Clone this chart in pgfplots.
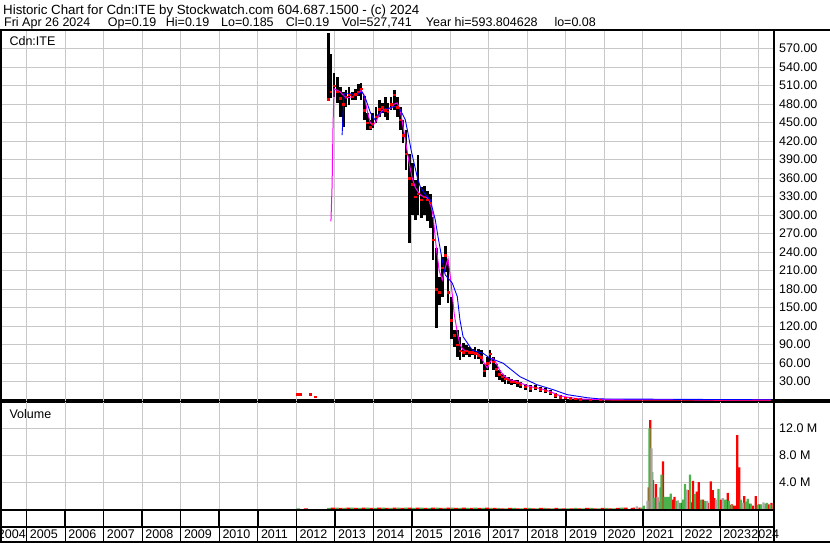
\documentclass[border=0pt]{standalone}
\usepackage{fontspec}
\setmainfont{Liberation Sans}
\usepackage{pgfplots}
\usepackage{pgfplotstable}
\pgfplotsset{compat=1.18}

\definecolor{swred}{RGB}{255,0,0}
\definecolor{swgreen}{RGB}{76,178,76}
\definecolor{swgray}{RGB}{168,168,168}
\definecolor{swgrid}{RGB}{200,200,200}
\definecolor{swmag}{RGB}{255,0,255}
\definecolor{swblue}{RGB}{0,0,255}

% daily-ish price bars: time, high, low, close
\pgfplotstableread{
t h l c
2012.83 595 487 488
2012.90 562 490 500
2012.98 530 492 510
2013.06 524 482 500
2013.14 508 459 490
2013.22 500 443 480
2013.29 503 476 492
2013.37 508 478 495
2013.45 500 487 492
2013.53 505 487 496
2013.61 512 493 500
2013.68 514 487 505
2013.76 493 455 470
2013.84 466 438 450
2013.92 455 438 443
2013.99 465 441 448
2014.07 476 449 460
2014.15 487 460 472
2014.23 482 465 475
2014.31 492 460 470
2014.38 482 455 468
2014.46 492 470 480
2014.54 503 470 495
2014.62 492 460 475
2014.70 476 438 455
2014.77 455 417 430
2014.85 438 373 400
2014.93 400 255 360
2015.01 384 300 350
2015.09 357 292 330
2015.16 397 300 335
2015.24 345 295 325
2015.32 348 300 330
2015.40 340 290 325
2015.48 335 280 320
2015.55 297 227 260
2015.63 246 117 180
2015.71 200 155 175
2015.79 232 168 215
2015.87 250 208 235
2015.94 227 157 175
2016.02 168 100 130
2016.10 114 86 105
2016.18 114 70 90
2016.25 103 65 80
2016.33 92 70 78
2016.41 89 73 80
2016.49 86 70 78
2016.57 83 73 78
2016.64 86 67 76
2016.72 83 67 73
2016.80 81 59 70
2016.88 59 38 48
2016.96 70 49 60
2017.03 81 59 75
2017.11 70 49 62
2017.19 59 38 50
2017.27 49 33 42
2017.35 43 30 38
2017.42 41 27 35
2017.50 38 27 33
2017.58 35 24 30
2017.66 33 27 30
2017.74 33 22 28
2017.81 30 19 25
2017.94 27 16 22
2018.07 24 14 19
2018.20 24 16 20
2018.33 22 14 18
2018.46 19 11 15
2018.59 16 8 12
2018.72 11 3 8
2018.85 8 1 5
2018.98 5 1 4
2019.11 5 1 3
2019.24 3 1 2
2019.37 2 1 1.5
2019.63 1.5 0.5 1
2019.89 1 0.6 0.8
}\pricetab

% short moving average (magenta)
\pgfplotstableread{
t v
2012.90 290
2012.93 348
2012.955 447
2012.98 505
2013.14 500
2013.29 490
2013.45 492
2013.61 497
2013.68 502
2013.76 495
2013.84 470
2013.92 450
2013.99 446
2014.07 452
2014.15 462
2014.23 470
2014.31 472
2014.38 472
2014.46 474
2014.54 480
2014.62 482
2014.70 470
2014.77 445
2014.85 415
2014.93 385
2015.01 360
2015.09 345
2015.16 338
2015.24 332
2015.32 330
2015.40 328
2015.48 320
2015.55 300
2015.63 250
2015.71 210
2015.79 195
2015.87 215
2015.94 230
2016.02 190
2016.10 140
2016.18 110
2016.25 90
2016.33 82
2016.41 80
2016.49 79
2016.57 78
2016.64 77
2016.72 75
2016.80 70
2016.88 60
2016.96 52
2017.03 62
2017.11 68
2017.19 60
2017.27 50
2017.35 43
2017.42 38
2017.55 33
2017.68 31
2017.81 28
2018.07 22
2018.33 19
2018.59 14
2018.85 7
2019.11 4
2019.37 2
2019.89 1
2024.32 0.4
}\matab

% long moving average (blue)
\pgfplotstableread{
t v
2013.19 430
2013.24 497
2013.40 497
2013.53 495
2013.61 497
2013.71 500
2013.81 487
2013.92 467
2014.02 455
2014.12 463
2014.23 467
2014.33 472
2014.44 474
2014.54 476
2014.64 476
2014.75 465
2014.83 455
2014.90 433
2014.98 406
2015.06 384
2015.14 362
2015.22 346
2015.32 336
2015.40 330
2015.48 325
2015.61 292
2015.68 265
2015.79 227
2015.87 203
2016.05 190
2016.18 168
2016.25 130
2016.33 103
2016.44 93
2016.57 81
2016.85 76
2017.03 68
2017.37 60
2017.81 38
2018.25 25
2018.67 17
2019.03 9
2019.55 4
2019.89 2
2024.32 0.6
}\mbtab

% volume, millions
\pgfplotstableread{
t v
2020.71 0.15
2020.77 0.2
2020.91 0.2
2021.15 3.2
2021.19 13.2
2021.26 4.3
2021.34 3.7
2021.38 1.7
2021.52 7.1
2021.58 0.5
2021.67 0.5
2021.77 1.4
2021.82 1.8
2022.01 0.9
2022.14 2.6
2022.19 2.8
2022.25 1.0
2022.30 4.2
2022.40 2.6
2022.45 4.0
2022.56 1.4
2022.68 0.9
2022.76 4.1
2022.81 2.8
2022.85 1.6
2023.02 1.4
2023.20 2.4
2023.25 0.6
2023.31 0.7
2023.38 0.5
2023.45 11.0
2023.50 6.2
2023.60 0.5
2023.63 1.9
2023.76 0.8
2023.85 0.5
2023.93 1.9
2024.02 0.7
2024.26 0.7
2024.34 0.9
}\volred

\pgfplotstableread{
t v
2020.97 0.2
2021.02 0.5
2021.17 12.0
2021.24 5.5
2021.29 1.6
2021.42 1.1
2021.46 3.2
2021.48 5.1
2021.56 1.8
2021.61 1.8
2021.66 1.8
2021.72 2.3
2021.86 1.2
2021.97 0.9
2022.05 1.4
2022.09 3.7
2022.22 5.1
2022.35 2.2
2022.51 1.4
2022.62 1.2
2022.96 3.0
2023.09 1.4
2023.15 1.4
2023.23 1.2
2023.30 0.6
2023.54 1.4
2023.67 1.1
2023.72 1.5
2023.80 0.8
2023.98 0.6
2024.06 0.7
2024.18 0.8
2024.22 0.9
2024.31 0.6
}\volgreen

\pgfplotstableread{
t v
2020.84 0.4
2021.12 1.2
2021.22 9.0
2021.38 1.8
2021.91 1.3
2022.14 2.9
2022.67 1.2
2022.90 1.4
2023.07 1.6
2023.59 0.9
2024.13 1.0
}\volgray

\begin{document}
\begin{tikzpicture}
\useasboundingbox (0pt,0pt) rectangle (830pt,543pt);
\fill[white] (0pt,0pt) rectangle (830pt,543pt);

\begin{scope}[x=1pt,y=1pt]
% header
\node[anchor=base west, inner sep=0pt, font=\fontsize{13.3}{15}\selectfont] at (3,528.3)
  {Historic Chart for Cdn:ITE by Stockwatch.com 604.687.1500 - (c) 2024};
\begin{scope}[every node/.style={anchor=base west, inner sep=0pt, font=\fontsize{12.5}{15}\selectfont}]
\node at (4,516) {Fri Apr 26 2024};
\node at (107.7,516) {Op=0.19};
\node at (165.7,516) {Hi=0.19};
\node at (221,516) {Lo=0.185};
\node at (285.7,516) {Cl=0.19};
\node at (341.7,516) {Vol=527,741};
\node at (425.7,516) {Year hi=593.804628};
\node at (554.3,516) {lo=0.08};
\end{scope}
% panel separator under price pane
\draw[line width=1.3pt] (0,143) -- (830,143);
\draw[line width=1.3pt] (0,141) -- (830,141);
\end{scope}

% price pane
\begin{axis}[
  at={(2pt,141.6pt)}, anchor=south west, scale only axis,
  width=771.5pt, height=370.4pt,
  xmin=2004.36, xmax=2024.39, ymin=-2, ymax=598.7,
  axis line style={draw=none},
  xtick={2005,2006,...,2024}, xticklabels={},
  ytick={30,60,...,570},
  yticklabel pos=right,
  major tick length=0pt,
  grid=major, grid style={draw=swgrid, line width=0.9pt},
  tick label style={font=\fontsize{12.5}{14}\selectfont, inner sep=0pt},
  yticklabel style={anchor=west, xshift=5.5pt,
    /pgf/number format/.cd, fixed, fixed zerofill, precision=2, assume math mode=true},
]
\addplot[draw=none, mark=none, forget plot,
  error bars/.cd, y dir=both, y explicit, error mark=none,
  error bar style={draw=black, solid, line width=2.9pt}]
  table[x=t, y=c, y error plus expr=\thisrow{h}-\thisrow{c},
        y error minus expr=\thisrow{c}-\thisrow{l}] {\pricetab};
\addplot[only marks, mark=square*, mark size=0.75pt, color=swred] table[x=t, y=c] {\pricetab};
\addplot[only marks, mark=square*, mark size=0.8pt, color=swred]
  coordinates {(2012.02,9.5) (2012.05,10) (2012.10,9.5) (2012.36,10) (2012.49,5.7)};
\addplot[swred, line width=1.5pt] coordinates
  {(2019.89,0.8) (2020.3,0.6) (2021.0,0.5) (2022.0,0.35) (2023.0,0.25) (2024.32,0.19)};
\addplot[swmag, line width=1pt] table[x=t, y=v] {\matab};
\addplot[swblue, line width=0.9pt] table[x=t, y=v] {\mbtab};
\node[anchor=base west, inner sep=0pt, font=\fontsize{12.5}{14}\selectfont]
  at (rel axis cs:0.0095,0.9595) {Cdn:ITE};
\end{axis}

% volume pane
\begin{axis}[
  at={(2pt,34pt)}, anchor=south west, scale only axis,
  width=771.5pt, height=106.5pt,
  xmin=2004.36, xmax=2024.39, ymin=0, ymax=15.84,
  axis line style={draw=none},
  xtick={2005,2006,...,2024}, xticklabels={},
  ytick={4,8,12}, yticklabels={4.0 M,8.0 M,12.0 M},
  yticklabel pos=right,
  major tick length=0pt,
  grid=major, grid style={draw=swgrid, line width=0.9pt},
  tick label style={font=\fontsize{12.5}{14}\selectfont, inner sep=0pt},
  yticklabel style={anchor=west, xshift=5.5pt},
  extra x ticks={2005.08,2006.08,2007.08,2008.08,2009.08,2010.08,2011.08,2012.08,2013.08,2014.08,2015.08,2016.08,2017.08,2018.08,2019.08,2020.08,2021.08,2022.08,2023.08,2023.81},
  extra x tick labels={2005,2006,2007,2008,2009,2010,2011,2012,2013,2014,2015,2016,2017,2018,2019,2020,2021,2022,2023,2024},
  extra x tick style={grid=none, major tick length=0pt,
    tick label style={anchor=base west, yshift=-29.3pt}},
]
\addplot[ybar, bar width=0.1, bar shift=0pt, fill=swgreen, draw=none] table[row sep=\\] {
x y\\ 2012.05 0.1\\ 2012.85 0.15\\ 2013.05 0.2\\ 2013.25 0.15\\ 2013.45 0.2\\ 2013.65 0.15\\
2013.85 0.2\\ 2014.05 0.15\\ 2014.25 0.2\\ 2014.45 0.15\\ 2014.65 0.2\\ 2014.85 0.2\\
2015.05 0.15\\ 2015.25 0.2\\ 2015.45 0.15\\ 2015.65 0.2\\ 2015.85 0.15\\ 2016.05 0.2\\
2016.25 0.15\\ 2016.45 0.15\\ 2016.65 0.2\\ 2016.85 0.15\\ 2017.05 0.15\\ 2017.25 0.15\\
2017.45 0.1\\ 2017.65 0.15\\ 2017.85 0.1\\ 2018.05 0.15\\ 2018.25 0.1\\ 2018.45 0.15\\
2018.65 0.1\\ 2018.85 0.1\\ 2019.05 0.1\\ 2019.25 0.15\\ 2019.45 0.1\\ 2019.65 0.15\\
2019.85 0.1\\ 2020.05 0.15\\ 2020.25 0.1\\ 2020.45 0.2\\ };
\addplot[ybar, bar width=0.1, bar shift=0pt, fill=swred, draw=none] table[row sep=\\] {
x y\\ 2012.25 0.1\\ 2012.95 0.2\\ 2013.15 0.15\\ 2013.35 0.2\\ 2013.55 0.15\\ 2013.75 0.2\\
2013.95 0.15\\ 2014.15 0.2\\ 2014.35 0.15\\ 2014.55 0.2\\ 2014.75 0.15\\ 2014.95 0.2\\
2015.15 0.2\\ 2015.35 0.15\\ 2015.55 0.2\\ 2015.75 0.15\\ 2015.95 0.2\\ 2016.15 0.15\\
2016.35 0.2\\ 2016.55 0.15\\ 2016.75 0.15\\ 2016.95 0.2\\ 2017.15 0.15\\ 2017.35 0.1\\
2017.55 0.15\\ 2017.75 0.1\\ 2017.95 0.15\\ 2018.15 0.1\\ 2018.35 0.15\\ 2018.55 0.1\\
2018.75 0.15\\ 2018.95 0.1\\ 2019.15 0.1\\ 2019.35 0.1\\ 2019.55 0.15\\ 2019.75 0.1\\
2019.95 0.15\\ 2020.15 0.1\\ 2020.35 0.15\\ 2020.55 0.2\\ };
\addplot[ybar, bar width=0.06, bar shift=0pt, fill=swred, draw=none] table[x=t, y=v] {\volred};
\addplot[ybar, bar width=0.06, bar shift=0pt, fill=swgreen, draw=none] table[x=t, y=v] {\volgreen};
\addplot[ybar, bar width=0.06, bar shift=0pt, fill=swgray, draw=none] table[x=t, y=v] {\volgray};
\node[anchor=base west, inner sep=0pt, font=\fontsize{12.5}{14}\selectfont]
  at (rel axis cs:0.0095,0.854) {Volume};
\end{axis}

\begin{scope}[x=1pt,y=1pt]
% year label that falls left of the axis range
\node[anchor=base east, inner sep=0pt, font=\fontsize{12.5}{14}\selectfont] at (26,4.7) {2004};
% frame
\draw[line width=2pt] (0,512.5) -- (830,512.5);
\draw[line width=2.4pt] (1.2,512.5) -- (1.2,0.3);
\draw[line width=1.7pt] (774.2,512.5) -- (774.2,0.3);
\draw[line width=1.6pt] (0,33.2) -- (774.2,33.2);
\draw[line width=1.8pt] (0,16.3) -- (774.2,16.3);
\draw[line width=2pt] (0,1.3) -- (830,1.3);
\foreach \yr in {2005,...,2024} {
  \pgfmathsetmacro{\xx}{2+(\yr-2004.36)*771.5/20.03}
  \draw[line width=1.5pt] (\xx,33.2) -- (\xx,16.3);
  \draw[line width=0.8pt] (\xx,16.3) -- (\xx,1.3);
}
\end{scope}
\end{tikzpicture}
\end{document}
